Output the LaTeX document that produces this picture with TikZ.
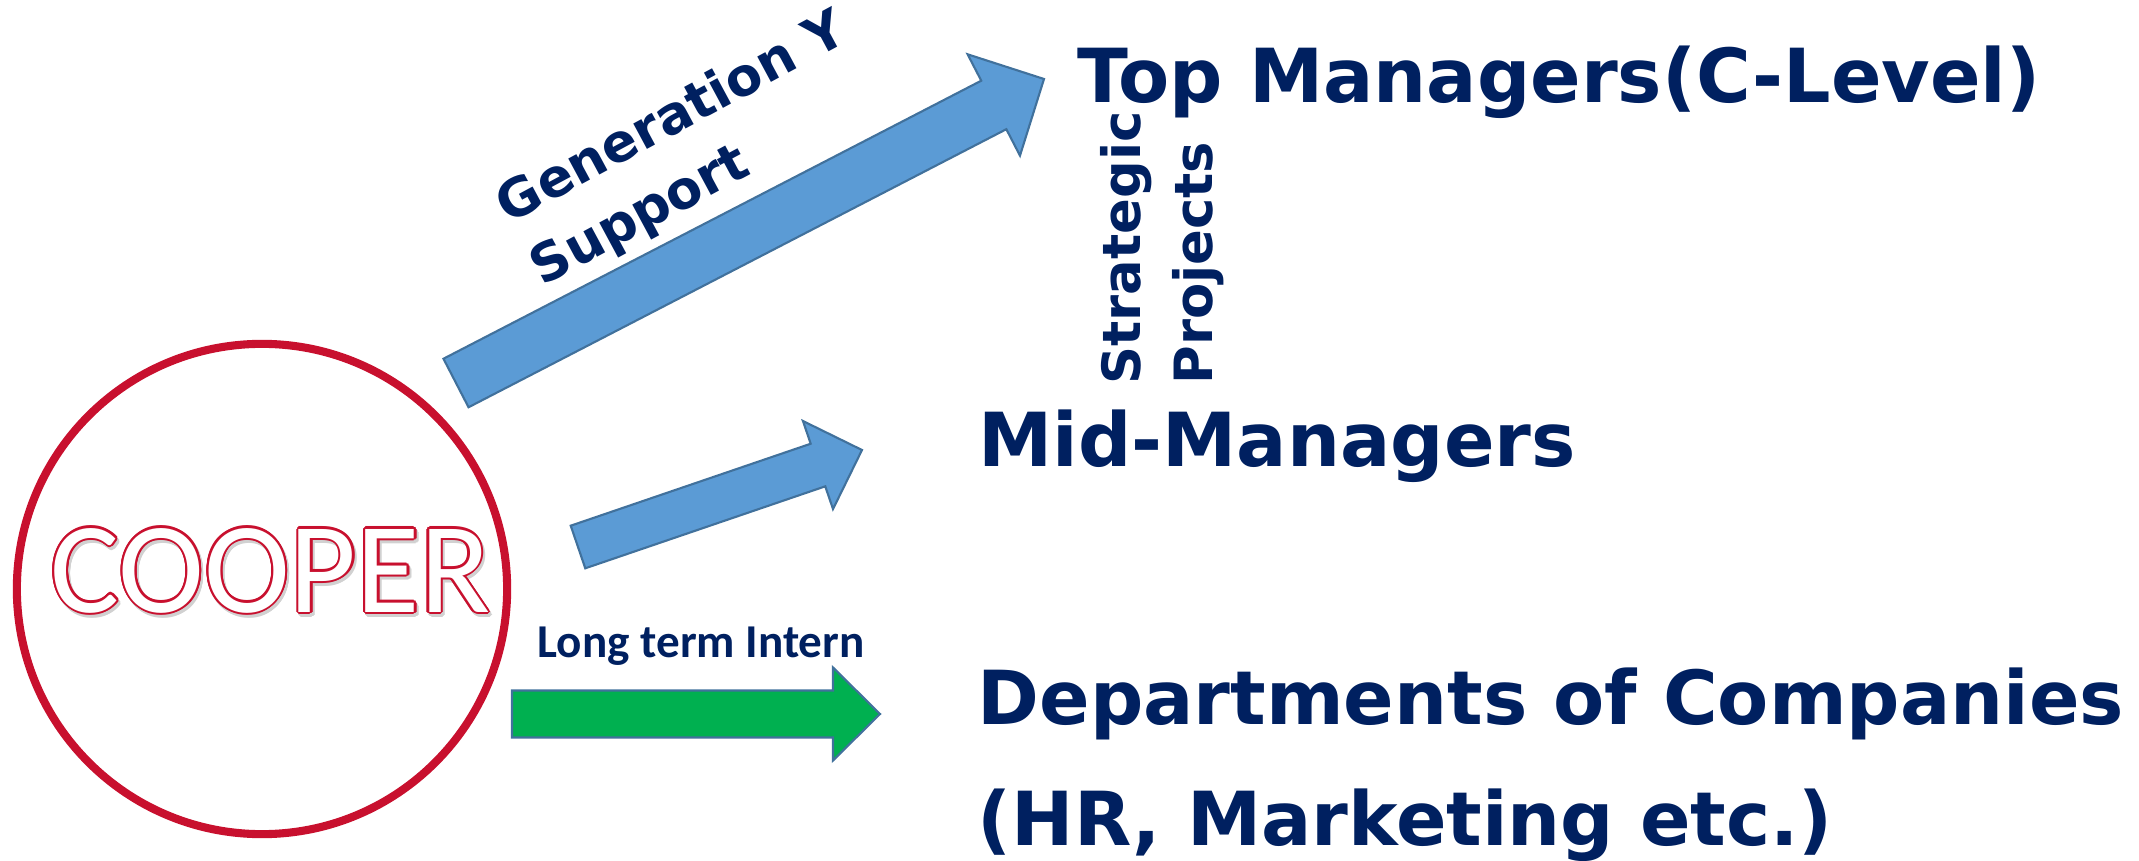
\documentclass[tikz,border=0pt]{standalone}
\usepackage{fontspec}
\usepackage{contour}
\usetikzlibrary{calc}
\setmainfont{DejaVu Sans}
\newfontfamily\carlito{Carlito}
\definecolor{navy}{HTML}{002060}
\definecolor{arrowblue}{HTML}{5B9BD5}
\definecolor{arrowline}{HTML}{41719C}
\definecolor{interngreen}{HTML}{00B050}
\definecolor{cooperred}{HTML}{C8102E}
\contourlength{0.6pt}
\tikzstyle{level} = [anchor=base west, inner sep=0pt, text=navy, align=left, font=\bfseries\fontsize{21.2}{34.4}\selectfont]
\tikzstyle{annot} = [anchor=base west, inner sep=0pt, text=navy, align=left, font=\bfseries\fontsize{15}{20.2}\selectfont]
\tikzstyle{cooperfont} = [anchor=base west, inner sep=0pt, font=\carlito\fontsize{36.8}{40}\selectfont]
\tikzstyle{bluearrow} = [draw=arrowline, line width=0.6pt, fill=arrowblue, line join=miter]
\tikzstyle{greenarrow} = [draw=arrowline, line width=0.6pt, fill=interngreen, line join=miter]
\newcommand{\drawarrow}[6]
{
  \coordinate (#2-neck) at ($(#3)!#6!(#2)$);
  \draw[#1] ($(#2)!#4!90:(#3)$) -- ($(#2-neck)!#4!90:(#3)$) -- ($(#2-neck)!#5!90:(#3)$) -- (#3)
    -- ($(#2-neck)!#5!-90:(#3)$) -- ($(#2-neck)!#4!-90:(#3)$) -- ($(#2)!#4!-90:(#3)$) -- cycle;
}

\begin{document}
\begin{tikzpicture}[x=0.01cm, y=-0.01cm]
	\useasboundingbox (0,0) rectangle (2139,861);

	\node[circle, draw=cooperred, line width=2.3pt, minimum size=4.9cm, inner sep=0pt] (cooper) at (262,589) {};
	\node[cooperfont, text=black!18] (cooper-shadow) at (52,615) {\contour{black!18}{COOPER}};
	\node[cooperfont, text=white] (cooper-text) at (50,612) {\contour{cooperred}{COOPER}};

	\coordinate (top-tail) at (456,383);
	\coordinate (top-tip) at (1044,79);
	\coordinate (mid-tail) at (578,547);
	\coordinate (mid-tip) at (862,450);
	\coordinate (dept-tail) at (512,714);
	\coordinate (dept-tip) at (880,714);

	\drawarrow{bluearrow}{top-tail}{top-tip}{0.273cm}{0.57cm}{0.565cm}
	\drawarrow{bluearrow}{mid-tail}{mid-tip}{0.225cm}{0.465cm}{0.465cm}
	\drawarrow{greenarrow}{dept-tail}{dept-tip}{0.235cm}{0.465cm}{0.47cm}

	\node[annot, rotate=28.3] (gen-label) at (542,287) {Generation Y\\Support};
	\node[annot, rotate=90] (strat-label) at (1212,385) {Strategic\\Projects};
	\node[anchor=base west, inner sep=0pt, text=navy, font=\carlito\bfseries\fontsize{13.4}{16}\selectfont] (intern-label) at (537,657) {Long term Intern};

	\node[level] (top) at (1077,103) {Top Managers(C-Level)};
	\node[level] (mid) at (978,467) {Mid-Managers};
	\node[level] (dept) at (977,845) {Departments of Companies\\(HR, Marketing etc.)};
\end{tikzpicture}
\end{document}
